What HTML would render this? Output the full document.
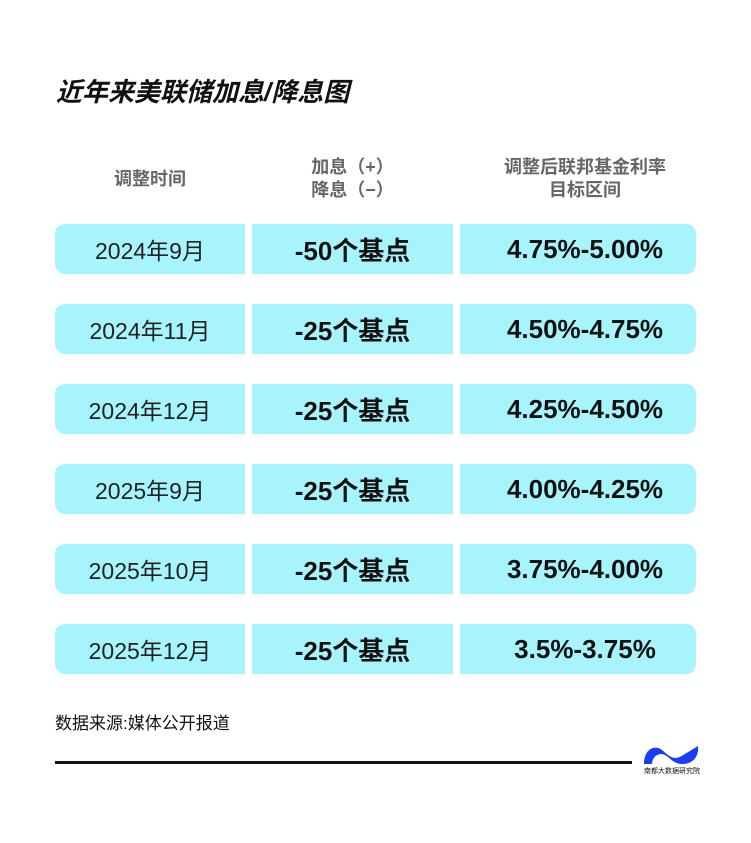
<!DOCTYPE html>
<html><head><meta charset="utf-8"><style>
body{margin:0;width:751px;height:843px;background:#fff;font-family:"Liberation Sans","Noto Sans CJK SC",sans-serif;position:relative;overflow:hidden}
.t{position:absolute;left:56px;top:72px;font-size:26px;font-weight:bold;font-style:italic;color:#111}
.h{position:absolute;color:#666;font-size:18px;font-weight:bold;text-align:center;line-height:23px}
.c{position:absolute;height:50px;background:#a8f4fc;display:flex;align-items:center;justify-content:center;color:#111}
.c1{left:55px;width:190px;border-radius:10px 0 0 10px;font-size:23px;color:#222}
.c2{left:252px;width:201px;font-size:26px;font-weight:bold}
.c3{left:460px;width:236px;border-radius:0 10px 10px 0;font-size:26px;font-weight:bold;padding-left:14px;box-sizing:border-box}
</style></head><body>
<div class="t">近年来美联储加息/降息图</div>
<div class="h" style="left:55px;width:190px;top:168px">调整时间</div>
<div class="h" style="left:252px;width:201px;top:156px">加息（+）<br>降息（−）</div>
<div class="h" style="left:460px;width:250px;top:156px">调整后联邦基金利率<br>目标区间</div>

<div class="c c1" style="top:224px">2024年9月</div><div class="c c2" style="top:224px">-50个基点</div><div class="c c3" style="top:224px">4.75%-5.00%</div>
<div class="c c1" style="top:304px">2024年11月</div><div class="c c2" style="top:304px">-25个基点</div><div class="c c3" style="top:304px">4.50%-4.75%</div>
<div class="c c1" style="top:384px">2024年12月</div><div class="c c2" style="top:384px">-25个基点</div><div class="c c3" style="top:384px">4.25%-4.50%</div>
<div class="c c1" style="top:464px">2025年9月</div><div class="c c2" style="top:464px">-25个基点</div><div class="c c3" style="top:464px">4.00%-4.25%</div>
<div class="c c1" style="top:544px">2025年10月</div><div class="c c2" style="top:544px">-25个基点</div><div class="c c3" style="top:544px">3.75%-4.00%</div>
<div class="c c1" style="top:624px">2025年12月</div><div class="c c2" style="top:624px">-25个基点</div><div class="c c3" style="top:624px">3.5%-3.75%</div>

<div style="position:absolute;left:55px;top:709px;font-size:17px;color:#111">数据来源:媒体公开报道</div>
<div style="position:absolute;left:55px;top:761px;width:577px;height:3px;background:#111"></div>
<svg style="position:absolute;left:642px;top:742px" width="60" height="34" viewBox="0 0 60 34">
<path d="M2 22 C2 8 12 2 20 8 C26 13 30 18 38 15 L56 4 C57 16 50 22 40 22 C30 22 26 12 19 12 C13 12 10 18 10 22 Z" fill="#1a3cf5"/>
<text x="30" y="31" font-size="7" text-anchor="middle" fill="#111" font-family="Noto Sans CJK SC,sans-serif">南都大数据研究院</text>
</svg>
</body></html>
